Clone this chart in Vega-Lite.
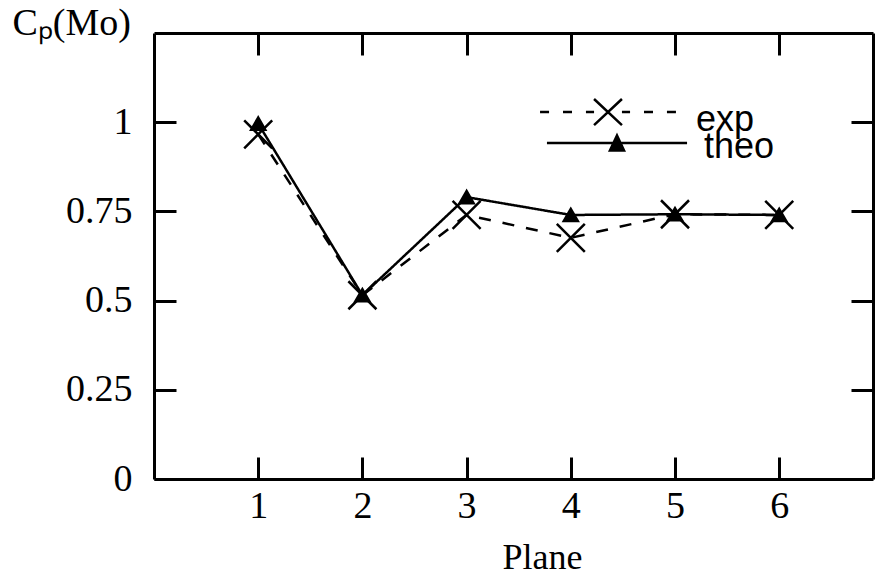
{
  "$schema": "https://vega.github.io/schema/vega-lite/v6.json",
  "width": 719,
  "height": 446,
  "autosize": "none",
  "padding": {"left": 154, "top": 33, "right": 3, "bottom": 101},
  "background": "white",
  "config": {
    "view": {"stroke": null},
    "axis": {
      "grid": false,
      "domainColor": "black",
      "domainWidth": 3,
      "tickColor": "black",
      "tickWidth": 3,
      "labelFont": "Liberation Serif",
      "labelFontSize": 38,
      "labelColor": "black",
      "titleFont": "Liberation Serif",
      "titleColor": "black",
      "titleFontWeight": "normal"
    },
    "legend": {
      "title": null,
      "padding": 0,
      "symbolSize": 900,
      "symbolStrokeWidth": 2.5,
      "symbolStrokeColor": "black",
      "symbolOpacity": 1,
      "labelFont": "Liberation Sans",
      "labelFontSize": 36,
      "labelColor": "black"
    }
  },
  "data": {
    "values": [
      {"plane": 1, "series": "exp", "cp": 0.966},
      {"plane": 2, "series": "exp", "cp": 0.515},
      {"plane": 3, "series": "exp", "cp": 0.74},
      {"plane": 4, "series": "exp", "cp": 0.676},
      {"plane": 5, "series": "exp", "cp": 0.742},
      {"plane": 6, "series": "exp", "cp": 0.74},
      {"plane": 1, "series": "theo", "cp": 0.996},
      {"plane": 2, "series": "theo", "cp": 0.515},
      {"plane": 3, "series": "theo", "cp": 0.79},
      {"plane": 4, "series": "theo", "cp": 0.74},
      {"plane": 5, "series": "theo", "cp": 0.742},
      {"plane": 6, "series": "theo", "cp": 0.74}
    ]
  },
  "resolve": {"axis": {"x": "independent", "y": "independent"}},
  "layer": [
    {
      "mark": {"type": "line", "color": "black", "strokeWidth": 2.5},
      "encoding": {
        "x": {
          "field": "plane", "type": "quantitative",
          "scale": {"domain": [0, 6.9], "nice": false, "zero": false},
          "axis": {
            "orient": "bottom", "values": [1, 2, 3, 4, 5, 6], "format": "d", "tickSize": -22,
            "labelPadding": 30, "title": "Plane", "titleFontSize": 36,
            "titleX": 388, "titleY": 89, "titleBaseline": "alphabetic", "titleAlign": "center"
          }
        },
        "y": {
          "field": "cp", "type": "quantitative",
          "scale": {"domain": [0, 1.25], "nice": false},
          "axis": {
            "orient": "left", "values": [0, 0.25, 0.5, 0.75, 1], "tickSize": -22,
            "labelExpr": "datum.value == 0 ? '0' : datum.value == 1 ? '1' : format(datum.value, '.2~f')",
            "labelPadding": 44, "title": "Cₚ(Mo)", "titleFontSize": 38, "titleAngle": 0,
            "titleAlign": "left", "titleBaseline": "alphabetic", "titleX": -142, "titleY": 1
          }
        },
        "detail": {"field": "series", "type": "nominal"},
        "strokeDash": {
          "condition": {"test": "datum.series === 'exp'", "value": [12, 12]},
          "value": [1, 0]
        }
      }
    },
    {
      "mark": {"type": "point", "filled": true, "fill": "black", "stroke": "black", "strokeWidth": 2.5, "opacity": 1, "size": 196},
      "encoding": {
        "x": {
          "field": "plane", "type": "quantitative",
          "axis": {"orient": "top", "values": [1, 2, 3, 4, 5, 6], "labels": false, "title": null, "tickSize": -22}
        },
        "y": {
          "field": "cp", "type": "quantitative",
          "axis": {"orient": "right", "values": [0.25, 0.5, 0.75, 1], "labels": false, "title": null, "tickSize": -22}
        },
        "shape": {
          "condition": {"test": "datum.series === 'exp'", "value": "M-2,-2L2,2M-2,2L2,-2"},
          "value": "triangle-up"
        }
      }
    },
    {
      "transform": [{"filter": "datum.series === 'exp'"}],
      "mark": {"type": "point", "filled": false, "opacity": 0, "strokeWidth": 2.5},
      "encoding": {
        "x": {"field": "plane", "type": "quantitative", "axis": null},
        "y": {"field": "cp", "type": "quantitative", "axis": null},
        "color": {
          "field": "series", "type": "nominal",
          "scale": {"domain": ["exp"], "range": ["black"]},
          "legend": {
            "orient": "none", "legendX": 436, "legendY": 69,
            "symbolType": "M-4.53,-0.53H-3.93M-3,-0.53H-2.4M-1.47,-0.53H-0.93M0.93,-0.53H1.47M2.4,-0.53H3M3.93,-0.53H4.53M-0.93,-1.4L0.93,0.34M-0.93,0.34L0.93,-1.4",
            "symbolFillColor": "transparent",
            "labelOffset": 70
          }
        }
      }
    },
    {
      "transform": [{"filter": "datum.series === 'theo'"}],
      "mark": {"type": "point", "filled": false, "opacity": 0, "strokeWidth": 2.5},
      "encoding": {
        "x": {"field": "plane", "type": "quantitative", "axis": null},
        "y": {"field": "cp", "type": "quantitative", "axis": null},
        "stroke": {
          "field": "series", "type": "nominal",
          "scale": {"domain": ["theo"], "range": ["black"]},
          "legend": {
            "orient": "none", "legendX": 436, "legendY": 96,
            "symbolType": "M-4.07,-0.27H5.27M0.6,-0.77L1.07,0.23L0.13,0.23ZM0.6,-0.57L0.93,0.13L0.27,0.13ZM0.6,-0.37L0.79,0.03L0.41,0.03ZM0.6,-0.17L0.65,-0.07L0.55,-0.07Z",
            "symbolFillColor": "transparent",
            "labelOffset": 78
          }
        }
      }
    }
  ]
}
